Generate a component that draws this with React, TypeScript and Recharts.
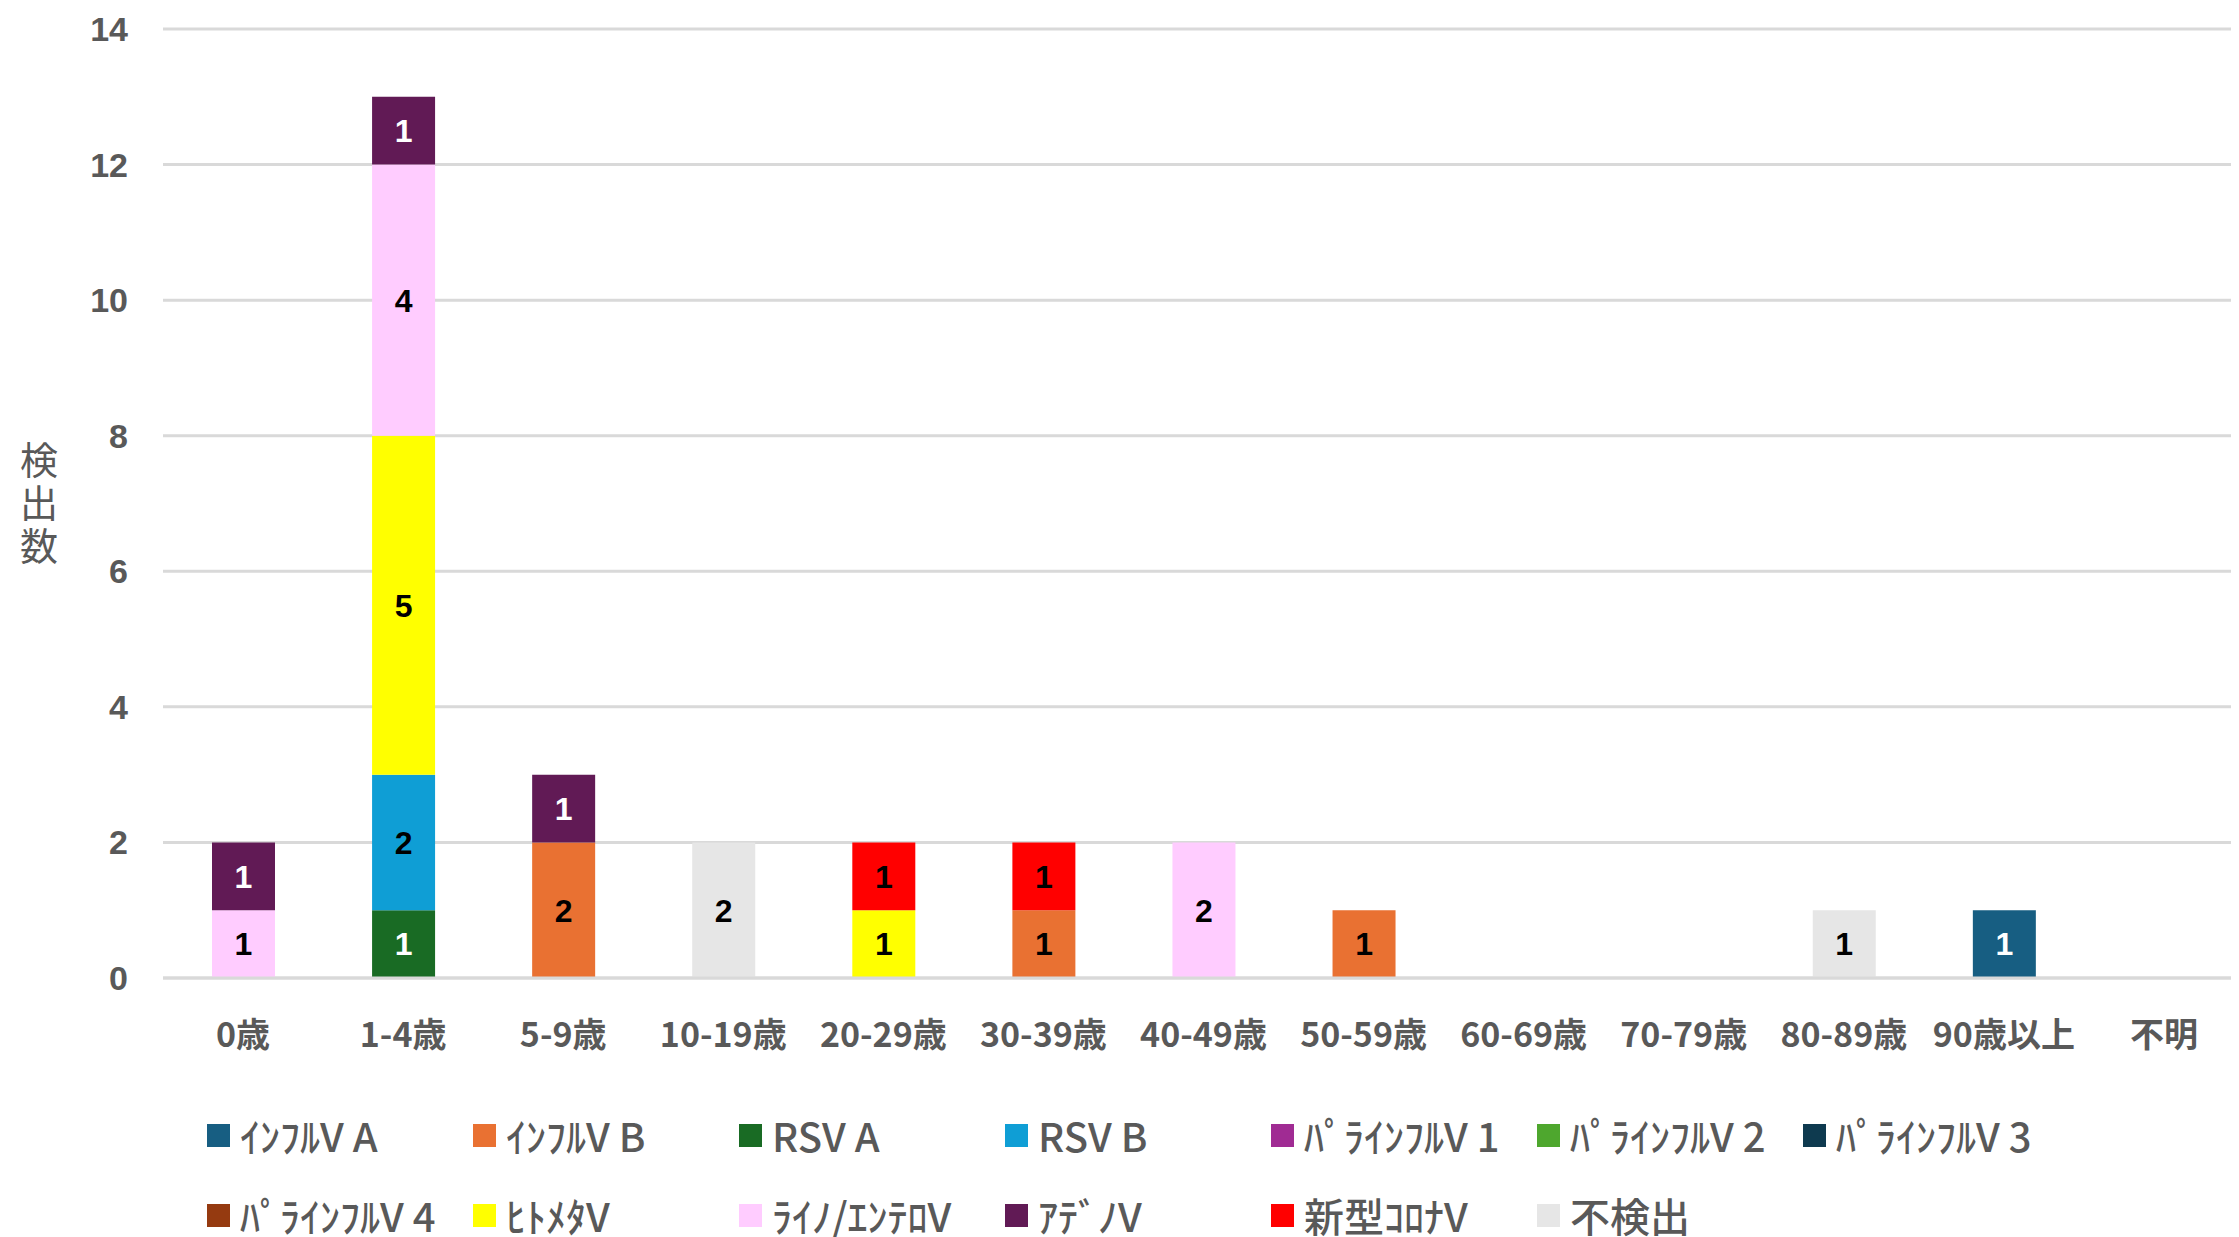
import React from 'react';
import { BarChart, Bar, XAxis, YAxis, CartesianGrid, Legend, LabelList } from 'recharts';

const categories = ['0歳', '1-4歳', '5-9歳', '10-19歳', '20-29歳', '30-39歳', '40-49歳', '50-59歳', '60-69歳', '70-79歳', '80-89歳', '90歳以上', '不明'];

const fluA = [null, null, null, null, null, null, null, null, null, null, null, 1, null];
const fluB = [null, null, 2, null, null, 1, null, 1, null, null, null, null, null];
const rsvA = [null, 1, null, null, null, null, null, null, null, null, null, null, null];
const rsvB = [null, 2, null, null, null, null, null, null, null, null, null, null, null];
const para1 = [null, null, null, null, null, null, null, null, null, null, null, null, null];
const para2 = [null, null, null, null, null, null, null, null, null, null, null, null, null];
const para3 = [null, null, null, null, null, null, null, null, null, null, null, null, null];
const para4 = [null, null, null, null, null, null, null, null, null, null, null, null, null];
const hmpv = [null, 5, null, null, 1, null, null, null, null, null, null, null, null];
const rhino = [1, 4, null, null, null, null, 2, null, null, null, null, null, null];
const adeno = [1, 1, 1, null, null, null, null, null, null, null, null, null, null];
const covid = [null, null, null, null, 1, 1, null, null, null, null, null, null, null];
const negative = [null, null, null, 2, null, null, null, null, null, null, 1, null, null];

const yTicks = [0, 2, 4, 6, 8, 10, 12, 14];

const series = [
  { key: 'fluA', name: 'ｲﾝﾌﾙV A', values: fluA, color: '#175E82', label: '#FFFFFF' },
  { key: 'fluB', name: 'ｲﾝﾌﾙV B', values: fluB, color: '#E97132', label: '#000000' },
  { key: 'rsvA', name: 'RSV A', values: rsvA, color: '#196B24', label: '#FFFFFF' },
  { key: 'rsvB', name: 'RSV B', values: rsvB, color: '#0F9ED5', label: '#000000' },
  { key: 'para1', name: 'ﾊﾟﾗｲﾝﾌﾙV 1', values: para1, color: '#A02B93', label: '#FFFFFF' },
  { key: 'para2', name: 'ﾊﾟﾗｲﾝﾌﾙV 2', values: para2, color: '#4EA72E', label: '#000000' },
  { key: 'para3', name: 'ﾊﾟﾗｲﾝﾌﾙV 3', values: para3, color: '#0E3A4F', label: '#FFFFFF' },
  { key: 'para4', name: 'ﾊﾟﾗｲﾝﾌﾙV 4', values: para4, color: '#953A10', label: '#FFFFFF' },
  { key: 'hmpv', name: 'ﾋﾄﾒﾀV', values: hmpv, color: '#FFFF00', label: '#000000' },
  { key: 'rhino', name: 'ﾗｲﾉ/ｴﾝﾃﾛV', values: rhino, color: '#FFCCFF', label: '#000000' },
  { key: 'adeno', name: 'ｱﾃﾞﾉV', values: adeno, color: '#611A55', label: '#FFFFFF' },
  { key: 'covid', name: '新型ｺﾛﾅV', values: covid, color: '#FF0000', label: '#000000' },
  { key: 'negative', name: '不検出', values: negative, color: '#E6E6E6', label: '#000000' },
];

const data = categories.map((name, i) => {
  const row: any = { name };
  series.forEach((s) => {
    row[s.key] = s.values[i];
  });
  return row;
});

const TEXT = '#595959';

const renderLegend = () => (
  <div style={{ position: 'relative', width: 2231, height: 142 }}>
    {series.map((s, i) => {
      const row = Math.floor(i / 7);
      const col = i % 7;
      return (
        <div
          key={s.key}
          style={{
            position: 'absolute',
            left: 199 + col * 266,
            top: 40 + row * 80 - 25,
            height: 50,
            display: 'flex',
            alignItems: 'center',
            whiteSpace: 'nowrap',
          }}
        >
          <div style={{ width: 23, height: 23, background: s.color, marginRight: 10 }} />
          <span style={{ fontFamily: '"Noto Sans CJK JP", sans-serif', fontSize: 40, fontWeight: 500, color: TEXT, lineHeight: '50px' }}>
            {s.name}
          </span>
        </div>
      );
    })}
  </div>
);

const YLabel = (props: any) => {
  const vb = props.viewBox || { x: 0, y: 0, width: 0, height: 0 };
  const cy = vb.y + vb.height / 2;
  const chars = ['検', '出', '数'];
  return (
    <text x={vb.x + 31} y={cy} textAnchor="middle" fill={TEXT} fontSize={38} fontFamily='"Noto Sans CJK JP", sans-serif'>
      {chars.map((c, i) => (
        <tspan key={i} x={vb.x + 31} y={cy + (i - 1) * 43} dy="0.36em">
          {c}
        </tspan>
      ))}
    </text>
  );
};

export default function App() {
  return (
    <BarChart
      width={2231}
      height={1229}
      data={data}
      margin={{ top: 21, right: -5, bottom: 0, left: 0 }}
      barCategoryGap="0%"
    >
      <CartesianGrid vertical={false} stroke="#D9D9D9" strokeWidth={3} />
      <XAxis
        dataKey="name"
        interval={0}
        tickLine={false}
        axisLine={{ stroke: '#D9D9D9', strokeWidth: 3 }}
        tickSize={0}
        tickMargin={45}
        height={117}
        tick={{ fill: TEXT, fontSize: 34, fontWeight: 700, fontFamily: '"Noto Sans CJK JP", sans-serif' }}
      />
      <YAxis
        domain={[0, 14]}
        ticks={yTicks}
        width={155}
        tickLine={false}
        axisLine={false}
        tickSize={0}
        tickMargin={35}
        tick={{ fill: TEXT, fontSize: 34, fontWeight: 700, fontFamily: '"Liberation Sans", Arial, sans-serif' }}
        label={<YLabel />}
      />
      <Legend verticalAlign="bottom" align="left" content={renderLegend} />
      {series.map((s) => (
        <Bar key={s.key} dataKey={s.key} name={s.name} stackId="a" fill={s.color} barSize={63} isAnimationActive={false}>
          <LabelList
            dataKey={s.key}
            position="center"
            fill={s.label}
            fontSize={32}
            fontWeight={700}
            fontFamily='"Liberation Sans", Arial, sans-serif'
            formatter={(v: any) => (v == null || v === 0 ? '' : v)}
          />
        </Bar>
      ))}
    </BarChart>
  );
}
